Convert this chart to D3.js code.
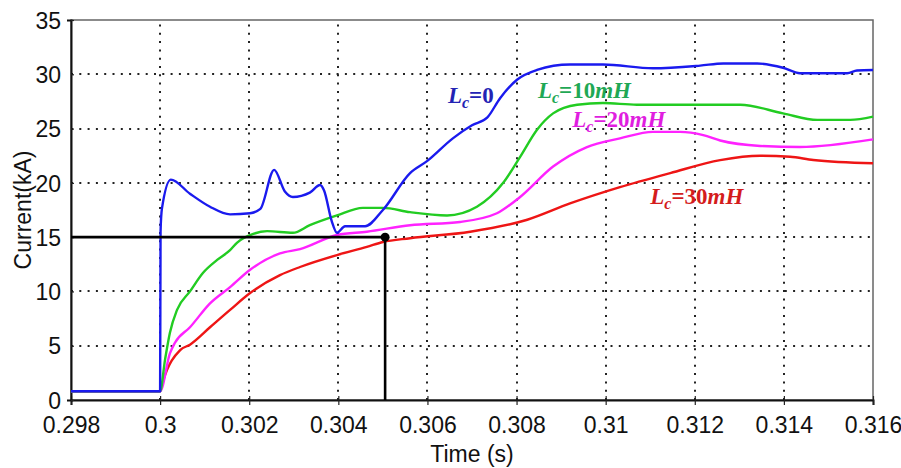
<!DOCTYPE html>
<html>
<head>
<meta charset="utf-8">
<script src="https://cdn.jsdelivr.net/npm/d3@7"></script>
<style>
  body { margin: 0; background: #fff; }
</style>
</head>
<body>
<script>
// time (s) / current (kA)
var blue = [[0.298,0.8],[0.3,0.8],[0.30001,15.5],[0.30004,17.6],[0.30024,20.3],[0.30067,19.0],[0.30112,17.8],
  [0.30157,17.1],[0.30202,17.2],[0.30225,17.6],[0.30256,21.2],[0.3028,19.2],[0.30298,18.7],[0.30336,19.1],
  [0.30359,19.8],[0.30368,19.3],[0.30385,16.5],[0.30397,15.4],[0.30415,16.0],[0.3046,16.0],[0.305,17.5],
  [0.30561,20.9],[0.30599,22.0],[0.30657,24.1],[0.307,25.3],[0.30734,26.0],[0.30763,27.8],[0.30801,29.5],
  [0.30846,30.4],[0.3092,30.9],[0.30994,30.9],[0.31106,30.55],[0.31212,30.8],[0.31264,31.0],[0.3134,31.0],
  [0.31398,30.6],[0.31436,30.1],[0.31542,30.1],[0.31564,30.35],[0.316,30.4]];
var green = [[0.298,0.8],[0.3,0.8],[0.30011,3.7],[0.30022,6.2],[0.30038,8.3],[0.30067,10.0],[0.30096,11.7],
  [0.30128,12.9],[0.30157,13.8],[0.30173,14.5],[0.30209,15.3],[0.3024,15.55],[0.30298,15.4],[0.30336,16.1],
  [0.30397,17.0],[0.30455,17.7],[0.305,17.7],[0.30561,17.3],[0.30644,17.0],[0.30711,17.8],[0.3077,20.0],
  [0.30808,22.4],[0.30846,24.9],[0.30882,26.4],[0.30936,27.2],[0.30994,27.35],[0.3107,27.2],[0.31302,27.2],
  [0.31398,26.4],[0.31475,25.8],[0.31549,25.8],[0.316,26.1]];
var magenta = [[0.298,0.8],[0.3,0.8],[0.30022,4.3],[0.30033,5.25],[0.30067,6.7],[0.30112,8.9],[0.30157,10.4],
  [0.30202,12.0],[0.30269,13.5],[0.30314,13.9],[0.30397,15.2],[0.30464,15.5],[0.30561,16.1],[0.30673,16.4],
  [0.30756,17.2],[0.30808,18.7],[0.30882,21.5],[0.30958,23.3],[0.31032,24.1],[0.31106,24.7],[0.31167,24.7],
  [0.31219,24.4],[0.31257,23.9],[0.31347,23.4],[0.31436,23.3],[0.316,24.0]];
var red = [[0.298,0.8],[0.3,0.8],[0.30007,1.8],[0.30045,4.6],[0.30067,5.1],[0.30112,6.7],[0.30157,8.3],
  [0.30202,9.85],[0.30269,11.5],[0.30314,12.25],[0.30397,13.35],[0.30464,14.1],[0.305,14.55],[0.30561,14.9],
  [0.30696,15.5],[0.30824,16.6],[0.3092,18.1],[0.31032,19.6],[0.31145,20.9],[0.31257,22.1],[0.31347,22.5],
  [0.31414,22.4],[0.31466,22.1],[0.316,21.8]];

var xTicks = [0.298,0.3,0.302,0.304,0.306,0.308,0.31,0.312,0.314,0.316];
var yTicks = [0,5,10,15,20,25,30,35];
var marker = [0.30505, 15];

var labels = [
  {txt: "0", t: 0.30646, v: 27.36, color: "#2323b4"},
  {txt: "10", t: 0.30848, v: 27.8, color: "#1fa855"},
  {txt: "20", t: 0.30925, v: 25.15, color: "#e01ee0"},
  {txt: "30", t: 0.311, v: 18.05, color: "#d41c1c"}
];
var seriesColors = ["#1a1aee", "#22cc22", "#ff22ff", "#ee1515"];

var width = 901, height = 468;
var margin = {top: 20, right: 28, bottom: 68, left: 71};
var sans = "'Liberation Sans', Arial, sans-serif";

var svg = d3.select("body").append("svg")
    .attr("width", width)
    .attr("height", height);

var x = d3.scaleLinear().domain([0.298, 0.316]).range([margin.left, width - margin.right]);
var y = d3.scaleLinear().domain([0, 35]).range([height - margin.bottom, margin.top]);

// frame
svg.append("rect")
    .attr("x", x(0.298)).attr("y", y(35))
    .attr("width", x(0.316) - x(0.298)).attr("height", y(0) - y(35))
    .attr("fill", "none").attr("stroke", "#666").attr("stroke-width", 1.5);

// dotted grid
var grid = svg.append("g").attr("class", "grid");
grid.selectAll("line.gx")
    .data(xTicks.slice(1, -1)).enter().append("line")
    .attr("class", "gx")
    .attr("x1", function(d){ return Math.round(x(d)); }).attr("x2", function(d){ return Math.round(x(d)); })
    .attr("y1", y(0)).attr("y2", y(35));
grid.selectAll("line.gy")
    .data(yTicks.slice(1, -1)).enter().append("line")
    .attr("class", "gy")
    .attr("y1", function(d){ return Math.round(y(d)); }).attr("y2", function(d){ return Math.round(y(d)); })
    .attr("x1", x(0.298)).attr("x2", x(0.316));
grid.selectAll("line")
    .attr("stroke", "#222").attr("stroke-width", 2).attr("stroke-dasharray", "2 6.3");

// axes
var xAxis = svg.append("g")
    .attr("transform", "translate(0," + y(0) + ")")
    .call(d3.axisBottom(x).tickValues(xTicks).tickFormat(d3.format("")).tickSize(5).tickPadding(12));
var yAxis = svg.append("g")
    .attr("transform", "translate(" + x(0.298) + ",0)")
    .call(d3.axisLeft(y).tickValues(yTicks).tickSize(4).tickPadding(6));
[xAxis, yAxis].forEach(function(g){
  g.select(".domain").attr("stroke", "#111").attr("stroke-width", 2);
  g.selectAll(".tick line").attr("stroke", "#222").attr("stroke-width", 1.2);
  g.selectAll(".tick text").attr("font-size", 23).attr("fill", "#111")
    .style("font-family", sans);
});
xAxis.selectAll(".tick line").attr("y1", -4);
yAxis.selectAll(".tick line").attr("x2", 3);
yAxis.selectAll(".tick text").attr("dy", "0.36em");

svg.append("text")
    .attr("x", (x(0.298) + x(0.316)) / 2).attr("y", 462)
    .attr("text-anchor", "middle").attr("font-size", 23).attr("fill", "#111")
    .style("font-family", sans)
    .text("Time (s)");
svg.append("text")
    .attr("transform", "translate(31," + ((y(0) + y(35)) / 2) + ") rotate(-90)")
    .attr("text-anchor", "middle").attr("font-size", 23).attr("fill", "#111")
    .style("font-family", sans)
    .text("Current(kA)");

// curves
var line = d3.line()
    .curve(d3.curveMonotoneX)
    .x(function(d){ return x(d[0]); })
    .y(function(d){ return y(d[1]); });

[red, magenta, green, blue].forEach(function(s, i){
  svg.append("path")
      .datum(s)
      .attr("fill", "none")
      .attr("stroke", seriesColors[3 - i])
      .attr("stroke-width", 2.4)
      .attr("stroke-linejoin", "round")
      .attr("d", line);
});

// 15 kA marker
svg.append("line")
    .attr("x1", x(0.298)).attr("x2", x(marker[0]))
    .attr("y1", y(marker[1])).attr("y2", y(marker[1]))
    .attr("stroke", "#000").attr("stroke-width", 2.6);
svg.append("line")
    .attr("x1", x(marker[0])).attr("x2", x(marker[0]))
    .attr("y1", y(marker[1])).attr("y2", y(0))
    .attr("stroke", "#000").attr("stroke-width", 2.6);
svg.append("circle")
    .attr("cx", x(marker[0])).attr("cy", y(marker[1]))
    .attr("r", 4.5).attr("fill", "#000");

// Lc labels
labels.forEach(function(l){
  var t = svg.append("text")
      .attr("x", x(l.t)).attr("y", y(l.v))
      .attr("fill", l.color)
      .style("font-family", "'Liberation Serif', 'DejaVu Serif', serif")
      .attr("font-weight", "bold")
      .attr("font-size", 23);
  t.append("tspan").attr("font-style", "italic").text("L");
  t.append("tspan").attr("font-style", "italic").attr("font-size", 16).attr("dy", 5).text("c");
  t.append("tspan").attr("dy", -5).text("=" + l.txt);
  if (l.txt !== "0") t.append("tspan").attr("font-style", "italic").text("mH");
});
</script>
</body>
</html>
